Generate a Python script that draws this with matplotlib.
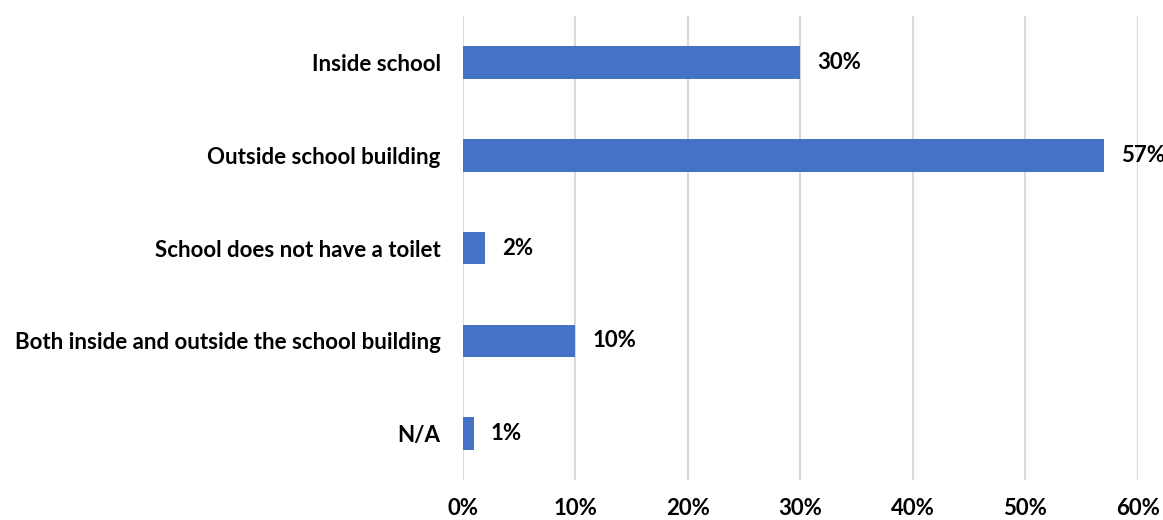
import matplotlib.pyplot as plt
from matplotlib.ticker import FuncFormatter

categories = [
    "Inside school",
    "Outside school building",
    "School does not have a toilet",
    "Both inside and outside the school building",
    "N/A",
]
values = [30, 57, 2, 10, 1]
xticks = [0, 10, 20, 30, 40, 50, 60]

plt.rcParams["font.family"] = ["Lato", "DejaVu Sans"]

fig = plt.figure(figsize=(11.63, 5.2), dpi=100)
ax = fig.add_axes([0.398, 0.077, 0.5805, 0.892])

ypos = list(range(len(categories)))
ax.barh(ypos, values, height=0.35, color="#4472C4", zorder=3)
ax.set_yticks(ypos)
ax.set_yticklabels(categories, fontsize=16, fontweight="bold")
ax.set_ylim(len(categories) - 0.5, -0.5)

ax.set_xlim(0, 60)
ax.set_xticks(xticks)
ax.xaxis.set_major_formatter(FuncFormatter(lambda v, p: f"{v:.0f}%"))
for lbl in ax.get_xticklabels():
    lbl.set_fontsize(16)
    lbl.set_fontweight("bold")

ax.grid(axis="x", color="#d9d9d9", linewidth=1.5, zorder=0)
for s in ax.spines.values():
    s.set_visible(False)
ax.tick_params(axis="both", length=0)
ax.tick_params(axis="y", pad=16)
ax.tick_params(axis="x", pad=13)

# value labels just past the end of each bar
for y, v in zip(ypos, values):
    ax.annotate(f"{v}%", (v, y), xytext=(12, 0), textcoords="offset points",
                va="center", ha="left", fontsize=16, fontweight="bold")

fig.savefig("out.png", dpi=100)
